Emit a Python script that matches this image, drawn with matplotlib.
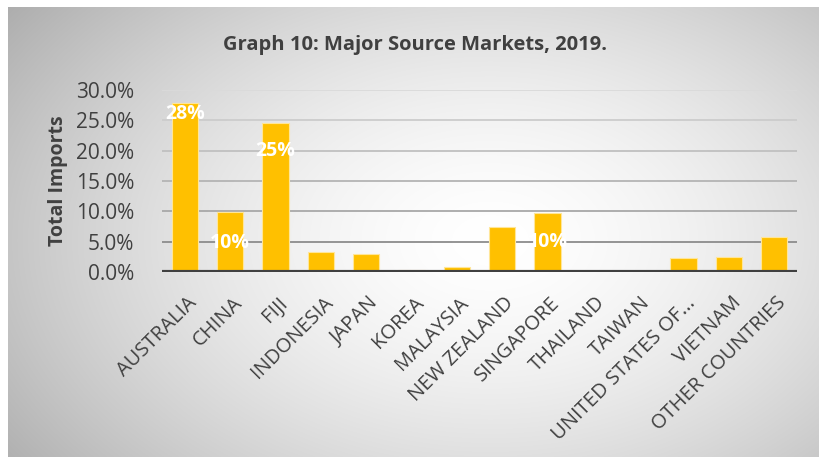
import numpy as np
import matplotlib.pyplot as plt
import matplotlib.transforms as mtransforms

# Data
countries = ["AUSTRALIA", "CHINA", "FIJI", "INDONESIA", "JAPAN", "KOREA", "MALAYSIA",
             "NEW ZEALAND", "SINGAPORE", "THAILAND", "TAIWAN", "UNITED STATES OF...",
             "VIETNAM", "OTHER COUNTRIES"]
shares = [27.8, 9.9, 24.6, 3.3, 3.0, 0.3, 0.8, 7.4, 9.7, 0.1, 0.0, 2.3, 2.4, 5.8]
labelled = {0: 26.0, 1: 4.8, 2: 19.9, 8: 4.9}  # bar index -> label height
yticks = [0, 5, 10, 15, 20, 25, 30]

plt.rcParams["font.family"] = ["Open Sans", "DejaVu Sans"]

fig = plt.figure(figsize=(8.19, 4.57), dpi=100)

# Background with radial gradient
bg = fig.add_axes([0, 0, 1, 1])
bg.set_axis_off()
W, H = 819, 457
yy, xx = np.mgrid[0:H, 0:W]
r = np.sqrt(((xx - 490) / 500) ** 2 + ((yy - 240) / 330) ** 2)
shade = 1 - 0.24 * np.clip(r, 0, 1.3) ** 1.6
img = np.dstack([shade] * 3)
img[:7, :, :] = 1
img[:, :8, :] = 1
bg.imshow(img, extent=[0, W, H, 0], aspect="auto", interpolation="bilinear")
bg.set_xlim(0, W)
bg.set_ylim(H, 0)

ax = fig.add_axes([162 / W, 1 - 272 / H, (797 - 162) / W, (272 - 90) / H])
ax.patch.set_alpha(0)

x = np.arange(len(countries))
grid_cols = ["#404040", "#8c8c8c", "#a8a8a8", "#b4b4b4", "#c0c0c0", "#cccccc", "#dadada"]
for t, c in zip(yticks[1:], grid_cols[1:]):
    ax.axhline(t, color=c, lw=1.3, zorder=1)

ax.bar(x, shares, width=0.58, color="#FFC000", edgecolor="#FFE699", lw=0.8, zorder=3)
ax.axhline(0, color="#404040", lw=3, zorder=4)

for i, h in labelled.items():
    ax.text(x[i], h, f"{round(shares[i])}%", color="white", fontsize=14,
            fontweight="bold", ha="center", va="center", zorder=5)

ax.set_xlim(-0.5, len(countries) - 0.5)
ax.set_ylim(0, 30)
ax.set_yticks(yticks)
ax.set_yticklabels([f"{t:.1f}%" for t in yticks], fontsize=15, color="#404040")
ax.set_xticks(x)
ax.set_xticklabels(countries, rotation=45, ha="right", rotation_mode="anchor",
                   fontsize=14.5, color="#404040")
ax.tick_params(length=0)
ax.tick_params(axis="y", pad=20)
ax.tick_params(axis="x", pad=15)
shift = mtransforms.ScaledTranslation(2 / 100, 0, fig.dpi_scale_trans)
for lbl in ax.get_xticklabels():
    lbl.set_transform(lbl.get_transform() + shift)
for s in ax.spines.values():
    s.set_visible(False)

ax.set_ylabel("Total Imports", fontsize=14, fontweight="bold", color="#404040", labelpad=6)
fig.text(415 / W, 1 - 45 / H, "Graph 10: Major Source Markets, 2019.", ha="center",
         va="center", fontsize=14.5, fontweight="bold", color="#404040")

fig.savefig("out.png", dpi=100)
